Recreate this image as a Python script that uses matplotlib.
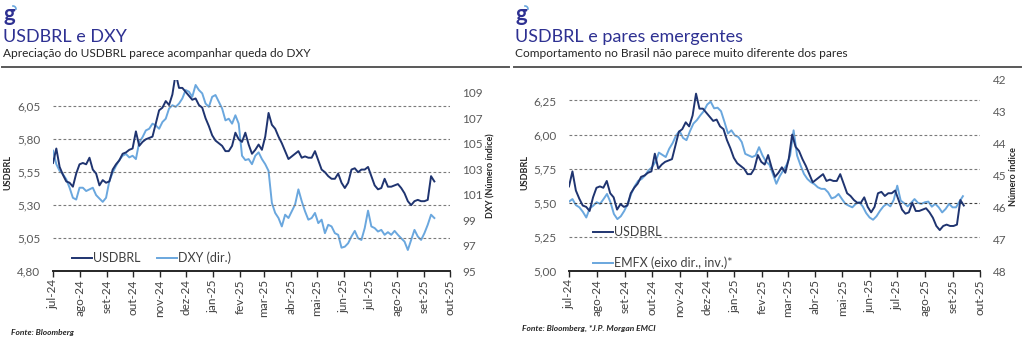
import numpy as np
import pandas as pd
import matplotlib
matplotlib.use("Agg")
import matplotlib.pyplot as plt
from matplotlib.lines import Line2D

plt.rcParams['font.family'] = ['Lato', 'DejaVu Sans']

# ---------------------------------------------------------------- data
month_labels = ['jul-24', 'ago-24', 'set-24', 'out-24', 'nov-24', 'dez-24',
                'jan-25', 'fev-25', 'mar-25', 'abr-25', 'mai-25', 'jun-25',
                'jul-25', 'ago-25', 'set-25', 'out-25']

usdbrl = [5.62, 5.73, 5.59, 5.53, 5.48, 5.47, 5.44, 5.54, 5.61, 5.62,
          5.61, 5.66, 5.57, 5.54, 5.45, 5.49, 5.47, 5.48, 5.57, 5.61,
          5.64, 5.69, 5.70, 5.72, 5.73, 5.86, 5.75, 5.78, 5.80, 5.81,
          5.82, 5.92, 6.02, 6.04, 6.09, 6.06, 6.14, 6.30, 6.19, 6.19,
          6.16, 6.13, 6.10, 6.11, 6.06, 6.04, 5.96, 5.90, 5.83, 5.79,
          5.77, 5.75, 5.71, 5.71, 5.75, 5.85, 5.80, 5.78, 5.85, 5.76,
          5.69, 5.72, 5.76, 5.72, 5.82, 6.00, 5.91, 5.88, 5.82, 5.77,
          5.71, 5.65, 5.67, 5.69, 5.71, 5.66, 5.67, 5.66, 5.66, 5.71,
          5.64, 5.57, 5.55, 5.52, 5.50, 5.50, 5.54, 5.47, 5.43, 5.47,
          5.57, 5.58, 5.55, 5.57, 5.57, 5.59, 5.52, 5.45, 5.42, 5.43,
          5.50, 5.44, 5.44, 5.45, 5.46, 5.43, 5.39, 5.33, 5.30, 5.33,
          5.34, 5.33, 5.33, 5.34, 5.52, 5.48]

dxy = [104.45, 103.39, 102.86, 102.60, 102.20, 101.54, 100.75, 100.61, 101.54, 101.54,
       101.28, 101.41, 101.54, 100.96, 100.69, 100.43, 100.75, 102.07, 102.73, 103.26,
       103.71, 104.05, 104.19, 103.92, 104.05, 103.79, 105.11, 105.51, 106.04, 106.17,
       106.57, 106.43, 106.17, 106.70, 106.96, 107.76, 108.02, 107.89, 108.15, 108.55,
       109.21, 109.08, 108.68, 109.61, 109.21, 108.95, 108.15, 107.89, 108.68, 108.82,
       108.29, 107.76, 106.83, 106.96, 106.57, 107.23, 106.57, 104.05, 103.71, 103.79,
       103.39, 104.05, 104.32, 103.79, 103.39, 102.86, 100.35, 99.56, 99.16, 98.50,
       99.42, 99.16, 99.69, 100.22, 101.41, 100.48, 99.69, 99.03, 99.16, 99.56,
       98.76, 99.03, 97.97, 98.63, 98.50, 97.97, 97.84, 96.83, 96.91, 97.18,
       97.71, 98.15, 97.57, 97.44, 98.37, 99.74, 98.50, 98.37, 98.10, 98.23,
       97.84, 98.05, 97.84, 98.15, 97.84, 97.57, 97.31, 96.65, 97.44, 98.23,
       97.71, 97.44, 97.97, 98.63, 99.42, 99.16]

emfx = [45.82, 45.74, 45.93, 46.00, 46.14, 46.32, 46.03, 45.95, 45.84, 45.89,
        45.74, 45.58, 45.84, 46.21, 46.37, 46.28, 46.11, 45.89, 45.58, 45.34,
        45.17, 45.11, 45.00, 44.84, 44.74, 44.58, 44.28, 44.35, 44.42, 44.16,
        43.98, 43.74, 43.60, 43.82, 43.89, 43.61, 43.37, 43.26, 43.11, 42.98,
        42.77, 42.68, 42.89, 42.87, 42.98, 43.32, 43.68, 43.58, 43.74, 43.79,
        43.95, 44.32, 44.37, 44.42, 44.37, 44.11, 44.37, 44.56, 44.66, 44.95,
        45.26, 45.02, 44.84, 44.66, 44.37, 43.58, 44.37, 44.68, 44.95, 45.11,
        45.21, 45.27, 45.37, 45.42, 45.42, 45.53, 45.72, 45.68, 45.58, 45.74,
        45.89, 45.95, 46.00, 45.89, 45.84, 45.97, 46.18, 46.32, 46.39, 46.28,
        46.11, 45.97, 45.89, 45.97, 45.76, 45.32, 45.79, 45.87, 45.97, 45.86,
        45.74, 45.86, 45.89, 45.84, 45.82, 45.98, 45.89, 46.00, 46.16, 46.05,
        45.89, 46.00, 46.00, 45.82, 45.65]

dates_main = pd.date_range('2024-07-01', '2025-09-13', periods=len(usdbrl))
dates_emfx = pd.date_range('2024-07-01', '2025-09-12', periods=len(emfx))
month_ticks = pd.date_range('2024-07-01', '2025-10-01', freq='MS')

left_ticks_a = [4.80, 5.05, 5.30, 5.55, 5.80, 6.05]
right_ticks_a = [95, 97, 99, 101, 103, 105, 107, 109]
left_ticks_b = [5.00, 5.25, 5.50, 5.75, 6.00, 6.25]
right_ticks_b = [42, 43, 44, 45, 46, 47, 48]

# ---------------------------------------------------------------- style
DARK = '#1f3470'
LIGHT = '#6aa7de'
TITLE = '#2e3192'
TXT = '#404040'
TICK = '#595959'
W, H = 1024, 347


def fx(px):
    return px / W


def fy(py):
    return 1 - py / H


def comma(v):
    return f"{v:.2f}".replace('.', ',')


fig = plt.figure(figsize=(W / 100, H / 100), dpi=100, facecolor='white')


def style_axes(ax, ax2):
    for a in (ax, ax2):
        for s in ('top', 'left', 'right'):
            a.spines[s].set_visible(False)
    ax2.spines['bottom'].set_visible(False)
    ax.spines['bottom'].set_color('#262626')
    ax.spines['bottom'].set_linewidth(1.4)
    ax.set_xlim(month_ticks[0], month_ticks[-1])
    ax.set_xticks(month_ticks)
    ax.set_xticklabels(month_labels, rotation=90)
    ax.tick_params(axis='x', direction='out', length=4, width=1.0,
                   color='#262626', labelsize=8.5, labelcolor=TXT, pad=2)
    ax.tick_params(axis='y', length=0, pad=9, labelsize=8.5, labelcolor=TICK)
    ax2.tick_params(axis='y', length=0, pad=9, labelsize=8.5, labelcolor=TICK)


def header(x0, title, subtitle):
    fig.text(fx(x0 + 1), fy(21), 'g', fontsize=16, fontweight='bold',
             color=TITLE, va='baseline', ha='left')
    t = np.linspace(0, np.pi / 2, 12)
    fig.add_artist(Line2D(fx(x0 + 10 + 3 * np.cos(t)), fy(9 - 3 * np.sin(t)),
                          color=LIGHT, lw=1.2, transform=fig.transFigure))
    fig.text(fx(x0), fy(42), title, fontsize=13, color=TITLE,
             va='baseline', ha='left')
    fig.text(fx(x0), fy(57), subtitle, fontsize=8.6, color='#262626',
             va='baseline', ha='left')
    fig.add_artist(Line2D([fx(x0 - 1), fx(x0 + 506)], [fy(66.5), fy(66.5)],
                          color='#595959', lw=1.4, transform=fig.transFigure))


# ---------------------------------------------------------------- left panel
header(3, 'USDBRL e DXY', 'Apreciação do USDBRL parece acompanhar queda do DXY')

axL = fig.add_axes([fx(53), fy(271), fx(397), 191 / H])
axL2 = axL.twinx()
style_axes(axL, axL2)

axL.set_ylim(4.80, 6.25)
axL.set_yticks(left_ticks_a)
axL.set_yticklabels([comma(v) for v in left_ticks_a])
axL2.set_ylim(95, 110)
axL2.set_yticks(right_ticks_a)
axL2.set_yticklabels([str(v) for v in right_ticks_a])

for v in left_ticks_a[1:]:
    axL.axhline(v, color='#7a7a7a', lw=0.8, ls=(0, (2.5, 2)), zorder=0)

lineL2, = axL2.plot(dates_main, dxy, color=LIGHT, lw=1.4, label='DXY (dir.)')
lineL1, = axL2.plot([], [], color=DARK, lw=1.4, label='USDBRL')
axL.plot(dates_main, usdbrl, color=DARK, lw=1.4, zorder=3)
axL.set_zorder(axL2.get_zorder() + 1)
axL.patch.set_visible(False)

leg = axL.legend([lineL1, lineL2], ['USDBRL', 'DXY (dir.)'], loc='center left',
                 bbox_to_anchor=((72 - 53) / 397, (271 - 258) / 191), ncol=2,
                 frameon=False, fontsize=9, handlelength=1.6, handletextpad=0.1,
                 columnspacing=1.3, borderpad=0, borderaxespad=0)
for t in leg.get_texts():
    t.set_color(TXT)

fig.text(fx(8), fy(173), 'USDBRL', rotation=90, fontsize=6.5,
         fontweight='bold', color='#262626', ha='center', va='center')
fig.text(fx(491), fy(176), 'DXY (Número índice)', rotation=90, fontsize=6.5,
         fontweight='bold', color='#262626', ha='center', va='center')
fig.text(fx(11), fy(335), 'Fonte: Bloomberg', fontsize=6, fontweight='bold',
         fontstyle='italic', color='#262626', va='baseline')

# ---------------------------------------------------------------- right panel
header(515, 'USDBRL e pares emergentes',
       'Comportamento no Brasil não parece muito diferente dos pares')

axR = fig.add_axes([fx(569), fy(271), fx(411), 191 / H])
axR2 = axR.twinx()
style_axes(axR, axR2)

axR.set_ylim(5.00, 6.40)
axR.set_yticks(left_ticks_b)
axR.set_yticklabels([comma(v) for v in left_ticks_b])
axR2.set_ylim(48, 42)
axR2.set_yticks(right_ticks_b)
axR2.set_yticklabels([str(v) for v in right_ticks_b])

for v in left_ticks_b[1:]:
    axR.axhline(v, color='#404040' if v == 5.50 else '#7a7a7a', lw=0.8,
                ls=(0, (2.5, 2)), zorder=0)

lineR2, = axR2.plot(dates_emfx, emfx, color=LIGHT, lw=1.4)
lineR1, = axR.plot(dates_main, usdbrl, color=DARK, lw=1.4, zorder=3)
axR.set_zorder(axR2.get_zorder() + 1)
axR.patch.set_visible(False)

x_leg = (593 - 569) / 411
leg1 = axR.legend([lineR1], ['USDBRL'], loc='center left',
                  bbox_to_anchor=(x_leg, (271 - 232) / 191), frameon=False,
                  fontsize=9, handlelength=1.6, handletextpad=0.1,
                  borderpad=0, borderaxespad=0)
axR.add_artist(leg1)
leg2 = axR.legend([lineR2], ['EMFX (eixo dir., inv.)*'], loc='center left',
                  bbox_to_anchor=(x_leg, (271 - 263) / 191), frameon=False,
                  fontsize=9, handlelength=1.6, handletextpad=0.1,
                  borderpad=0, borderaxespad=0)
for lg in (leg1, leg2):
    for t in lg.get_texts():
        t.set_color(TXT)

fig.text(fx(525), fy(173), 'USDBRL', rotation=90, fontsize=6.5,
         fontweight='bold', color='#262626', ha='center', va='center')
fig.text(fx(1013), fy(177), 'Número índice', rotation=90, fontsize=6.5,
         fontweight='bold', color='#262626', ha='center', va='center')
fig.text(fx(522), fy(331), 'Fonte: Bloomberg, *J.P. Morgan EMCI', fontsize=6,
         fontweight='bold', fontstyle='italic', color='#262626', va='baseline')

fig.savefig('out.png', dpi=100, facecolor='white')
